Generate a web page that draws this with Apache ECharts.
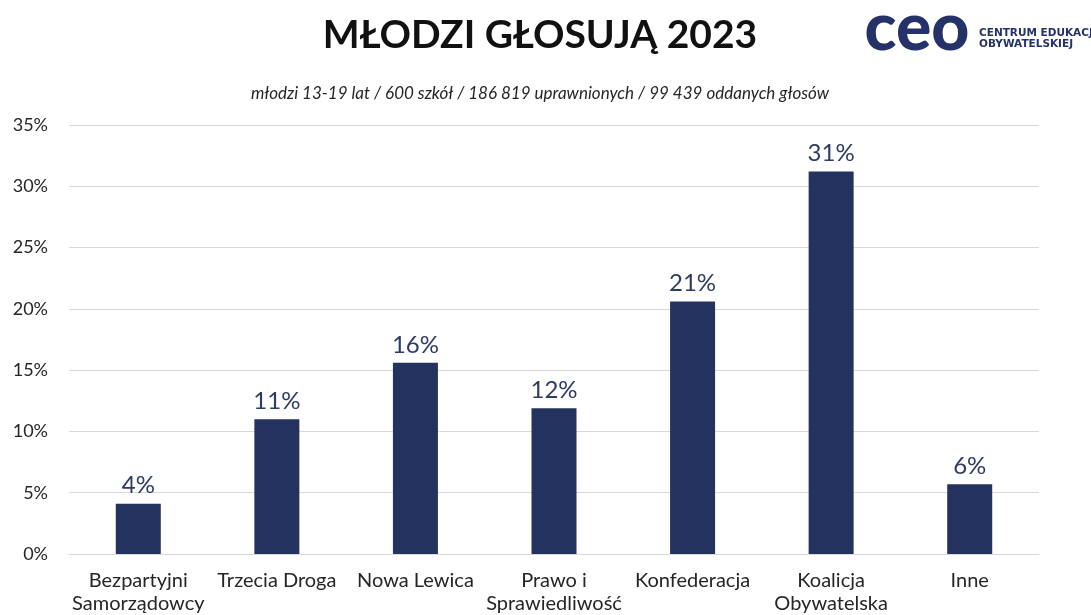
<!DOCTYPE html>
<html>
<head>
<meta charset="utf-8">
<script src="https://cdn.jsdelivr.net/npm/echarts@6/dist/echarts.min.js"></script>
<style>
  html, body { margin: 0; padding: 0; background: #fff; }
  #main { width: 1091px; height: 615px; }
</style>
</head>
<body>
<div id="main"></div>
<script>
// party names (x axis)
const categories = [
  'Bezpartyjni\nSamorządowcy',
  'Trzecia Droga',
  'Nowa Lewica',
  'Prawo i\nSprawiedliwość',
  'Konfederacja',
  'Koalicja\nObywatelska',
  'Inne'
];
// vote share in %
const shares = [4.1, 11.0, 15.6, 11.9, 20.6, 31.2, 5.7];
const yTicks = [0, 5, 10, 15, 20, 25, 30, 35];

const NAVY = '#24325f';
const FONT = 'Lato';

const chart = echarts.init(document.getElementById('main'));

chart.setOption({
  backgroundColor: '#fff',
  animation: false,
  textStyle: { fontFamily: FONT },
  grid: { left: 69, right: 52, top: 125, bottom: 59 },
  xAxis: {
    type: 'category',
    data: categories,
    axisLine: { lineStyle: { color: '#d9d9d9' } },
    axisTick: { show: false },
    axisLabel: {
      color: '#262626',
      fontSize: 20,
      lineHeight: 23,
      margin: 15,
      interval: 0,
      fontFamily: FONT
    }
  },
  yAxis: {
    type: 'value',
    min: yTicks[0],
    max: yTicks[yTicks.length - 1],
    interval: 5,
    axisLine: { show: false },
    axisTick: { show: false },
    splitLine: { lineStyle: { color: '#d9d9d9' } },
    axisLabel: {
      color: '#262626',
      fontSize: 18,
      margin: 21,
      formatter: '{value}%',
      fontFamily: FONT
    }
  },
  series: [{
    type: 'bar',
    data: shares,
    barWidth: 45,
    itemStyle: { color: NAVY },
    label: {
      show: true,
      position: 'top',
      distance: 6,
      color: '#2e3b63',
      fontSize: 24,
      fontFamily: FONT,
      formatter: (p) => Math.round(p.value) + '%'
    }
  }],
  graphic: [
    {
      type: 'text',
      style: {
        text: 'MŁODZI GŁOSUJĄ 2023',
        x: 540, y: 35,
        align: 'center', verticalAlign: 'middle',
        font: 'bold 39px Lato',
        fill: '#111'
      }
    },
    {
      type: 'text',
      style: {
        text: 'młodzi 13-19 lat / 600 szkół / 186 819 uprawnionych / 99 439 oddanych głosów',
        x: 540, y: 94,
        align: 'center', verticalAlign: 'middle',
        font: 'italic 17px Lato',
        fill: '#262626'
      }
    },
    {
      type: 'text',
      style: {
        text: 'ceo',
        x: 917, y: 29,
        align: 'center', verticalAlign: 'middle',
        font: '900 66px Lato',
        fill: '#25326a'
      }
    },
    {
      type: 'text',
      style: {
        text: 'CENTRUM EDUKACJI\nOBYWATELSKIEJ',
        x: 979, y: 39,
        align: 'left', verticalAlign: 'middle',
        font: 'bold 10.5px "DejaVu Sans"',
        lineHeight: 11,
        fill: '#25326a'
      }
    }
  ]
});
</script>
</body>
</html>
